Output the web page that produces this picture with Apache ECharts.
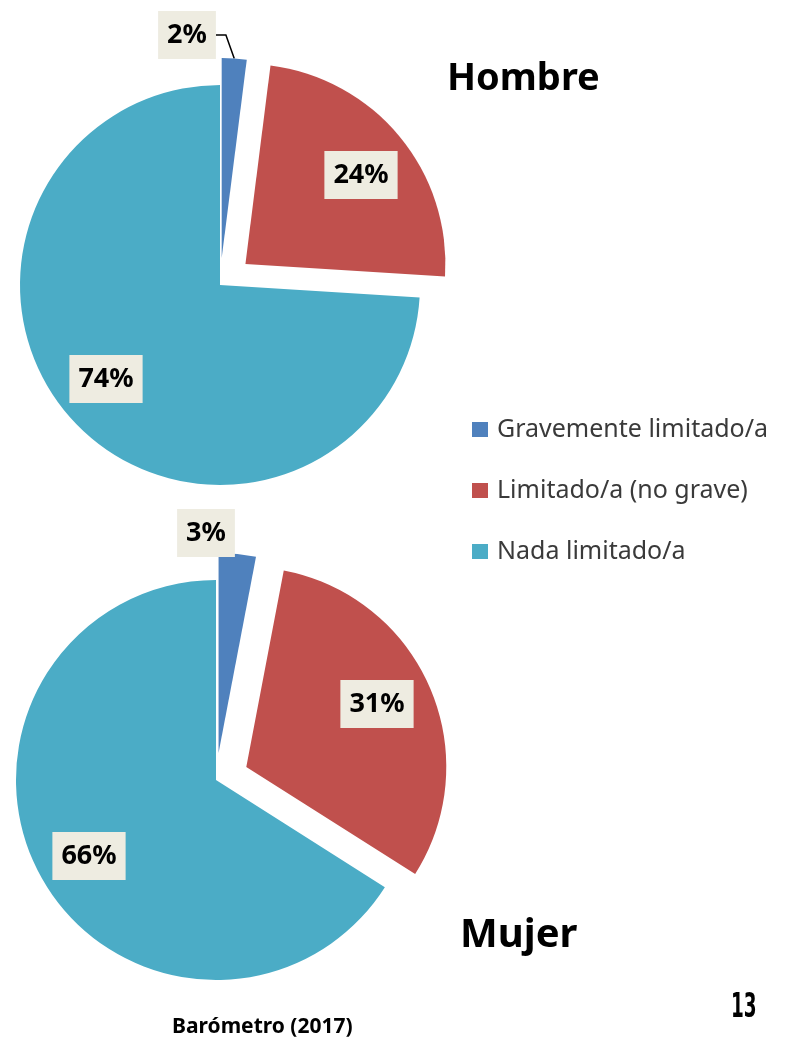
<!DOCTYPE html>
<html>
<head>
<meta charset="utf-8">
<title>Barómetro (2017)</title>
<script src="https://cdn.jsdelivr.net/npm/echarts@6/dist/echarts.min.js"></script>
<style>
  html, body { margin: 0; padding: 0; background: #fff; }
  #chart { width: 785px; height: 1040px; }
</style>
</head>
<body>
<div id="chart"></div>
<script>
// categorías y valores (%)
const categories = ['Gravemente limitado/a', 'Limitado/a (no grave)', 'Nada limitado/a'];
const hombreValues = [2, 24, 74];
const mujerValues = [3, 31, 66];
const colors = ['#4f81bd', '#c0504d', '#4bacc6'];

// cuánto se separa cada porción del centro (px)
const explode = [27, 33, 0];

// centro de cada caja de etiqueta (px)
const labelSpots = [
  [[187, 35], [361, 175], [106, 379]],
  [[206, 533], [377, 704], [89, 856]]
];

const chart = echarts.init(document.getElementById('chart'));

// ángulo medio de la porción i, desde las 12 en sentido horario
function midAngle(values, i) {
  const total = values.reduce(function (a, b) { return a + b; }, 0);
  let before = 0;
  for (let j = 0; j < i; j++) before += values[j];
  return (before + values[i] / 2) / total * Math.PI * 2;
}

// una serie por porción, así cada una puede ir desplazada
function sliceSeries(values, center, pieIdx, k, withLine) {
  const a = midAngle(values, k);
  const off = explode[k];
  return {
    type: 'pie',
    center: [center[0] + off * Math.sin(a), center[1] - off * Math.cos(a)],
    radius: 200,
    startAngle: 90,
    clockwise: true,
    avoidLabelOverlap: false,
    emphasis: { disabled: true },
    data: values.map(function (v, i) {
      const mine = i === k;
      return {
        name: categories[i],
        value: v,
        itemStyle: { color: mine ? colors[i] : 'rgba(0,0,0,0)' },
        label: { show: mine, position: (mine && withLine) ? 'outside' : 'inside' },
        labelLine: { show: mine && withLine, lineStyle: { color: '#000', width: 1.5 } }
      };
    }),
    label: {
      formatter: '{c}%',
      fontFamily: 'Noto Sans',
      fontWeight: 'bold',
      fontSize: 27,
      lineHeight: 28,
      color: '#000',
      backgroundColor: '#eeece1',
      padding: [10, 9]
    },
    labelLine: { length: 10, length2: 10 },
    labelLayout: function (p) {
      const spot = labelSpots[pieIdx][p.dataIndex];
      return { x: spot[0], y: spot[1], align: 'center', verticalAlign: 'middle' };
    }
  };
}

const series = [];
[0, 1, 2].forEach(function (k) {
  series.push(sliceSeries(hombreValues, [220, 285], 0, k, k === 0));
  series.push(sliceSeries(mujerValues, [216, 780], 1, k, false));
});

chart.setOption({
  animation: false,
  backgroundColor: '#fff',
  title: [
    {
      text: 'Hombre', left: 442, top: 55,
      textStyle: { fontFamily: 'Noto Sans', fontWeight: 'bold', fontSize: 38, color: '#000' }
    },
    {
      text: 'Mujer', left: 455, top: 911,
      textStyle: { fontFamily: 'Noto Sans', fontWeight: 'bold', fontSize: 40, color: '#000' }
    },
    {
      text: 'Barómetro (2017)', left: 167, top: 1012,
      textStyle: { fontFamily: 'Noto Sans', fontWeight: 'bold', fontSize: 21, color: '#000' }
    }
  ],
  legend: {
    orient: 'vertical',
    left: 472,
    top: 417,
    padding: 0,
    itemWidth: 16,
    itemHeight: 15,
    itemGap: 36,
    icon: 'rect',
    selectedMode: false,
    data: categories.map(function (c, i) {
      return { name: c, itemStyle: { color: colors[i] } };
    }),
    textStyle: {
      fontFamily: 'Noto Sans',
      fontSize: 25,
      lineHeight: 25,
      color: '#3a3a3a',
      padding: [0, 0, 0, 4]
    }
  },
  graphic: [
    {
      type: 'text',
      x: 731,
      y: 992,
      scaleX: 0.62,
      style: {
        text: '13',
        font: 'bold 33px "Liberation Sans Narrow", "DejaVu Sans Condensed", sans-serif',
        fill: '#000'
      }
    }
  ],
  series: series
});
</script>
</body>
</html>
